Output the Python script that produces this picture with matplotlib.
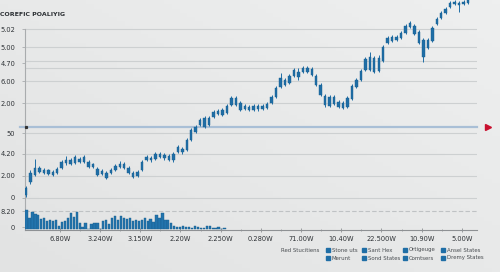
import numpy as np
import matplotlib
matplotlib.use("Agg")
import matplotlib.pyplot as plt
from matplotlib.lines import Line2D

# ---------------- data ----------------
title = "COREFIC POALIYIG"

body_low = [37, 50, 57, 60, 59, 58, 57, 59, 64, 69, 68, 69, 70, 70, 65, 65, 57, 58, 54, 59,
            62, 65, 64, 59, 55, 56, 62, 72, 72, 73, 75, 74, 72, 72, 80, 80, 82, 92, 100, 107,
            105, 107, 115, 118, 117, 119, 127, 127, 122, 123, 122, 122, 123, 123, 124, 129, 135, 145, 147, 149,
            156, 155, 160, 160, 157, 147, 137, 127, 126, 128, 125, 124, 125, 133, 145, 152, 162, 162, 160, 161,
            171, 189, 191, 192, 194, 199, 205, 198, 189, 175, 184, 191, 208, 214, 219, 225, 228, 227, 228, 229]
body_high = [44, 59, 64, 64, 62, 62, 60, 63, 70, 72, 72, 75, 73, 75, 70, 68, 63, 61, 59, 62,
             66, 68, 68, 64, 59, 60, 70, 75, 74, 78, 78, 77, 76, 78, 85, 83, 92, 102, 105, 112,
             114, 114, 120, 121, 122, 126, 134, 134, 129, 126, 125, 126, 126, 126, 128, 135, 144, 154, 152, 156,
             162, 160, 164, 164, 163, 156, 147, 136, 135, 135, 130, 129, 134, 146, 152, 161, 173, 175, 174, 174,
             185, 194, 195, 195, 199, 206, 209, 206, 200, 192, 192, 204, 213, 219, 223, 229, 230, 229, 230, 232]
wick_low = [35, 48, 56, 59, 58, 57, 56, 58, 63, 67, 67, 68, 69, 69, 64, 64, 56, 57, 53, 58,
            61, 64, 63, 58, 54, 55, 61, 71, 70, 72, 74, 72, 71, 70, 79, 78, 81, 91, 99, 106,
            104, 106, 114, 117, 116, 118, 126, 126, 121, 122, 121, 121, 121, 122, 123, 128, 134, 144, 146, 148,
            155, 152, 159, 159, 156, 146, 136, 125, 125, 127, 124, 123, 124, 132, 144, 151, 161, 161, 159, 160,
            170, 188, 190, 191, 193, 198, 204, 197, 188, 170, 183, 190, 207, 213, 218, 224, 227, 220, 227, 228]
wick_high = [46, 62, 73, 66, 64, 63, 62, 65, 72, 76, 74, 77, 75, 77, 72, 69, 65, 63, 61, 64,
             68, 71, 70, 66, 61, 62, 72, 77, 76, 80, 80, 79, 78, 80, 87, 85, 94, 104, 107, 114,
             116, 116, 122, 123, 124, 128, 136, 136, 131, 128, 127, 128, 128, 128, 130, 137, 146, 159, 154, 158,
             164, 164, 166, 166, 165, 158, 149, 138, 137, 137, 132, 131, 136, 148, 154, 163, 175, 180, 176, 177,
             187, 196, 197, 197, 201, 208, 211, 208, 202, 194, 194, 206, 215, 221, 225, 231, 232, 231, 232, 234]

volume = [19.3, 11.3, 16.7, 14.7, 14, 10, 11.3, 8, 9, 8, 9, 3.3, 6.7, 8, 11.3, 15.7, 12.3, 16.7,
          5.7, 2.3, 5.7, 0, 4.7, 5.7, 6, 0, 8, 9, 4.7, 11.3, 12.7, 9, 13.3, 11.3, 10,
          10.7, 8, 9, 8, 9, 10.7, 8, 10, 7.3, 14, 11.3, 16, 9, 9, 5.7, 3.3, 2.3, 2, 3.3,
          2.3, 2, 1.3, 2.7, 1.7, 0.7, 0.7, 3.3, 2.7, 1.3, 0.7, 2, 0, 1.3]

ytick_vals = [203, 185, 169, 151, 129, 99, 78, 56, 34, 21, 5]
ytick_labels = ["5.02", "5.00", "4.70", "6.00", "2.00", "50", "4.20", "2.00", "0", "8.20", "0"]
grid_vals = [203, 185, 171, 164, 151, 129, 99, 78, 56, 34]
dashed_val = 21
ref_line_val = 105

xtick_labels = ["6.80W", "3.240W", "3.150W", "2.20W", "2.250W", "0.280W",
                "71.00W", "10.40W", "22.500W", "10.90W", "5.00W"]

legend_title = "Red Stucitiens"
legend_row1 = ["Stone uts", "Sant Hex", "Ortigeuge", "Ansel States"]
legend_row2 = ["Merunt", "Sond States", "Comtsers", "Dremy States"]

# ---------------- style ----------------
BG = "#e8e9e9"
BLUE = "#1f6ea6"
VOLBLUE = "#2274ad"
GRID = "#cdd0d1"
TXT = "#2e3236"

W, H = 500, 272
fig = plt.figure(figsize=(W / 100, H / 100), dpi=100, facecolor=BG)

# subtle background gradient
bg = fig.add_axes([0, 0, 1, 1], zorder=-10)
gy, gx = np.mgrid[0:1:64j, 0:1:64j]
grad = 0.5 * gx + 0.5 * gy
bg.imshow(grad, cmap=matplotlib.colors.LinearSegmentedColormap.from_list(
    "g", ["#e2e3e3", "#eeefef"]), extent=[0, 1, 0, 1], aspect="auto", origin="lower")
bg.axis("off")

def fx(px):
    return px / W

def fy(py):
    return 1 - py / H

left_px, right_px, top_px, bot_px = 25, 477, 0, 230
ax = fig.add_axes([fx(left_px), fy(bot_px), fx(right_px - left_px), (bot_px - top_px) / H])
ax.set_facecolor("none")

n = len(body_low)
idx = np.arange(n)
step_px = 4.465
first_px = 26
ax.set_xlim((left_px - first_px) / step_px, (right_px - first_px) / step_px)
ax.set_ylim(2, 232)

for v in grid_vals:
    ax.axhline(v, color=GRID, lw=0.8, zorder=1)
ax.axhline(dashed_val, color="#bfc2c4", lw=0.8, ls=(0, (4, 2)), zorder=1)
ax.axhline(ref_line_val, color="#a9bfd6", lw=1.6, zorder=1, xmin=-0.01, xmax=1.0, clip_on=False)
ax.plot([-0.1], [ref_line_val], marker="s", ms=1.3, color="#333333", zorder=3, clip_on=False)
ax.plot([(488 - first_px) / step_px], [ref_line_val], marker=">", ms=4, color="#c8102e",
        clip_on=False, zorder=3)

# candles
ax.vlines(idx, wick_low, wick_high, color=BLUE, lw=0.7, zorder=4)
bl = np.array(body_low, dtype=float)
bh = np.array(body_high, dtype=float)
ax.bar(idx, bh - bl, bottom=bl, width=0.55, color=BLUE, edgecolor="#185f90", lw=0.3, zorder=5)

# axes style
for s in ["top", "right"]:
    ax.spines[s].set_visible(False)
ax.spines["left"].set_color("#a9acae")
ax.spines["left"].set_linewidth(0.8)
ax.spines["left"].set_bounds(2, 203)
ax.spines["bottom"].set_color("#8e9194")
ax.spines["bottom"].set_linewidth(0.8)

ax.set_yticks(ytick_vals)
ax.set_yticklabels(ytick_labels)
ax.tick_params(axis="y", length=2, width=0.6, color="#a9acae", pad=5.0, labelsize=4.8, labelcolor=TXT)

xt = np.linspace(7.6, 97.6, len(xtick_labels))
ax.set_xticks(xt)
ax.set_xticklabels(xtick_labels)
ax.set_xticks((xt[:-1] + xt[1:]) / 2, minor=True)
ax.tick_params(axis="x", which="major", length=3, width=0.6, color="#8e9194", direction="inout",
               pad=3, labelsize=4.8, labelcolor=TXT)
ax.tick_params(axis="x", which="minor", length=1.5, width=0.5, color="#8e9194", direction="inout")

# volume axes
vax = fig.add_axes([fx(left_px), fy(bot_px), fx(right_px - left_px), 30 / H], zorder=2)
vax.set_facecolor("none")
nv = len(volume)
vstep = 2.955
vfirst = 26.5
vax.set_xlim((left_px - vfirst) / vstep, (right_px - vfirst) / vstep)
vax.set_ylim(-1, 29)
vax.bar(np.arange(nv), volume, width=0.78, color=VOLBLUE, edgecolor="#1a5f8e", lw=0.3)
vax.axis("off")

# title
fig.text(0.0, fy(15), title, fontsize=4.5, fontweight="bold", color="#2b2f33", va="center", ha="left")

# legend
lg_col = "#4a4e52"
lfs = 3.9
fig.text(fx(281), fy(250), legend_title, fontsize=lfs, color=lg_col, va="center", ha="left")
col_x = [328, 364, 405, 443]
for row_y, labels in [(250, legend_row1), (258, legend_row2)]:
    for cx, lab in zip(col_x, labels):
        fig.add_artist(Line2D([fx(cx)], [fy(row_y)], marker="s", ms=2.3, color=BLUE,
                              transform=fig.transFigure))
        fig.text(fx(cx + 4), fy(row_y), lab, fontsize=lfs, color=lg_col, va="center", ha="left")

fig.savefig("out.png", dpi=100, facecolor=BG)
